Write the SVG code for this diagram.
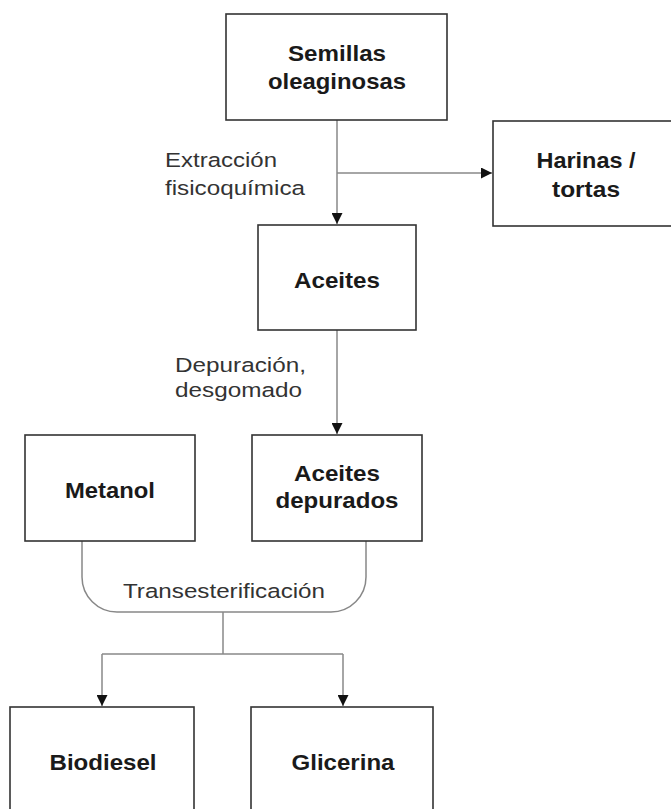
<svg xmlns="http://www.w3.org/2000/svg" width="671" height="809" viewBox="0 0 671 809">
<defs>
<style>
.box{fill:#fff;stroke:#333;stroke-width:1.6}
.lbl{font-family:"Liberation Sans",Arial,sans-serif;font-weight:bold;font-size:22px;fill:#1a1a1a;text-anchor:middle}
.note{font-family:"Liberation Sans",Arial,sans-serif;font-size:20.5px;fill:#333}
.con{fill:none;stroke:#888;stroke-width:1.5}
</style>
<marker id="arr" viewBox="0 0 10 10" refX="10" refY="5" markerWidth="11" markerHeight="11" markerUnits="userSpaceOnUse" orient="auto">
<path d="M0,0 L10,5 L0,10 Z" fill="#111"/>
</marker>
</defs>
<rect width="671" height="809" fill="#fff"/>
<g id="connectors">
<path class="con" d="M337,120 V224" marker-end="url(#arr)"/>
<path class="con" d="M337,173 H492" marker-end="url(#arr)"/>
<path class="con" d="M337,330 V434" marker-end="url(#arr)"/>
<path class="con" d="M82,541 V577 A35,35 0 0 0 117,612 H331 A35,35 0 0 0 366,577 V541"/>
<path class="con" d="M223,612 V654"/>
<path class="con" d="M102,654 H343"/>
<path class="con" d="M102,654 V706" marker-end="url(#arr)"/>
<path class="con" d="M343,654 V706" marker-end="url(#arr)"/>
<text class="note" x="165" y="167" textLength="112" lengthAdjust="spacingAndGlyphs">Extracción</text>
<text class="note" x="165" y="195" textLength="140" lengthAdjust="spacingAndGlyphs">fisicoquímica</text>
<text class="note" x="175" y="372" textLength="131" lengthAdjust="spacingAndGlyphs">Depuración,</text>
<text class="note" x="175" y="397" textLength="127" lengthAdjust="spacingAndGlyphs">desgomado</text>
<text class="note" x="123" y="598" textLength="202" lengthAdjust="spacingAndGlyphs">Transesterificación</text>
</g>
<g id="semillas">
<rect class="box" x="226" y="14" width="221" height="106"/>
<text class="lbl" x="337" y="61" textLength="98" lengthAdjust="spacingAndGlyphs">Semillas</text>
<text class="lbl" x="337" y="89" textLength="138" lengthAdjust="spacingAndGlyphs">oleaginosas</text>
</g>
<g id="harinas">
<rect class="box" x="493" y="121" width="186" height="105"/>
<text class="lbl" x="586" y="168" textLength="99" lengthAdjust="spacingAndGlyphs">Harinas /</text>
<text class="lbl" x="586" y="197" textLength="68" lengthAdjust="spacingAndGlyphs">tortas</text>
</g>
<g id="aceites">
<rect class="box" x="258" y="225" width="158" height="105"/>
<text class="lbl" x="337" y="288" textLength="86" lengthAdjust="spacingAndGlyphs">Aceites</text>
</g>
<g id="metanol">
<rect class="box" x="25" y="435" width="170" height="106"/>
<text class="lbl" x="110" y="498" textLength="90" lengthAdjust="spacingAndGlyphs">Metanol</text>
</g>
<g id="aceites-depurados">
<rect class="box" x="252" y="435" width="170" height="106"/>
<text class="lbl" x="337" y="481" textLength="86" lengthAdjust="spacingAndGlyphs">Aceites</text>
<text class="lbl" x="337" y="508" textLength="123" lengthAdjust="spacingAndGlyphs">depurados</text>
</g>
<g id="biodiesel">
<rect class="box" x="10" y="707" width="184" height="120"/>
<text class="lbl" x="103" y="770" textLength="107" lengthAdjust="spacingAndGlyphs">Biodiesel</text>
</g>
<g id="glicerina">
<rect class="box" x="251" y="707" width="182" height="120"/>
<text class="lbl" x="343" y="770" textLength="103" lengthAdjust="spacingAndGlyphs">Glicerina</text>
</g>
</svg>
